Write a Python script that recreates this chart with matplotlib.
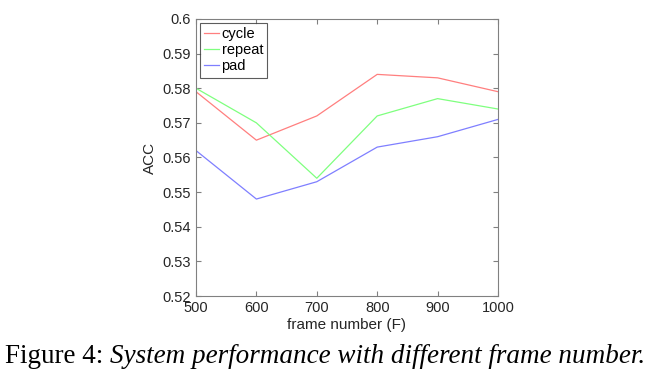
import matplotlib.pyplot as plt

frames = [500, 600, 700, 800, 900, 1000]
acc_cycle = [0.579, 0.565, 0.572, 0.584, 0.583, 0.579]
acc_repeat = [0.580, 0.570, 0.554, 0.572, 0.577, 0.574]
acc_pad = [0.562, 0.548, 0.553, 0.563, 0.566, 0.571]
yticks = [0.52, 0.53, 0.54, 0.55, 0.56, 0.57, 0.58, 0.59, 0.6]

plt.rcParams['font.family'] = ['Liberation Sans', 'DejaVu Sans']

fig = plt.figure(figsize=(6.57, 3.88), dpi=100)
ax = fig.add_axes([0.2983, 0.2371, 0.4597, 0.714])

ax.plot(frames, acc_cycle, color='#ff7f7f', lw=0.9, label='cycle')
ax.plot(frames, acc_repeat, color='#7fff7f', lw=0.9, label='repeat')
ax.plot(frames, acc_pad, color='#7f7fff', lw=0.9, label='pad')

ax.set_xlim(500, 1000)
ax.set_ylim(0.52, 0.6)
ax.set_xticks(frames)
ax.set_yticks(yticks)
ax.set_yticklabels(['0.52', '0.53', '0.54', '0.55', '0.56', '0.57', '0.58', '0.59', '0.6'])
ax.tick_params(direction='in', top=True, right=True, length=3.5, color='#808080',
               labelsize=10.5, labelcolor='#262626', width=0.8)
for s in ax.spines.values():
    s.set_color('#808080')
    s.set_linewidth(0.8)

ax.set_xlabel('frame number (F)', fontsize=11, color='#262626', labelpad=2)
ax.set_ylabel('ACC', fontsize=11, color='#262626', labelpad=4)

leg = ax.legend(loc='upper left', fontsize=10.5, frameon=True, fancybox=False,
                handlelength=1.0, handletextpad=0.2, borderpad=0.3,
                labelspacing=0.15, borderaxespad=0.25)
leg.get_frame().set_edgecolor('#333333')
leg.get_frame().set_linewidth(0.8)

# caption: regular prefix, italic remainder placed right after it
t1 = fig.text(0.008, 0.08, 'Figure 4: ', family='Liberation Serif', fontsize=19.5, va='center')
fig.canvas.draw()
bb = t1.get_window_extent()
x2 = bb.x1 / fig.bbox.width
fig.text(x2, 0.08, 'System performance with different frame number.',
         family='Liberation Serif', style='italic', fontsize=19.5, va='center')

fig.savefig('out.png', dpi=100)
